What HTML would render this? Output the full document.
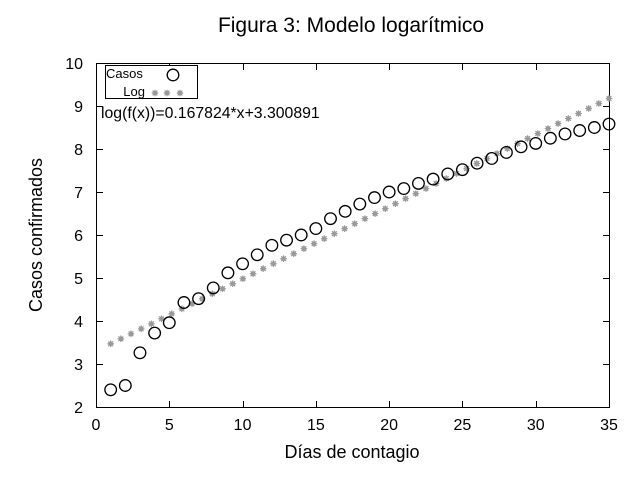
<!DOCTYPE html>
<html><head><meta charset="utf-8"><style>
html,body{margin:0;padding:0;background:#fff;}
svg{display:block;font-family:"Liberation Sans",Arial,sans-serif;}
</style></head><body>
<svg id="s" width="640" height="480" xmlns="http://www.w3.org/2000/svg">
<rect width="640" height="480" fill="#fff"/>
<text x="351" y="32" font-size="21" text-anchor="middle">Figura 3: Modelo logarítmico</text>
<g id="ax" stroke="#000" stroke-width="1" fill="none"></g>
<g id="lbl" font-size="16" fill="#000"></g>
<text x="352" y="458" font-size="18" text-anchor="middle">Días de contagio</text>
<text transform="translate(42,235) rotate(-90)" font-size="18" text-anchor="middle">Casos confirmados</text>
<g id="stars" fill="#999" stroke="#999" stroke-width="1.2"></g>
<g id="circ" stroke="#000" stroke-width="1.3" fill="none"></g>
<rect x="105.5" y="65.5" width="92" height="33" fill="#fff" stroke="#000"/>
<text x="106" y="78" font-size="13">Casos</text>
<text x="145" y="96" font-size="13" text-anchor="end">Log</text>
<circle cx="173" cy="75" r="5.8" stroke="#000" stroke-width="1.3" fill="none"/>
<g id="lstars" fill="#999" stroke="#999" stroke-width="1.2"></g>
<text x="101" y="118" font-size="15.8">log(f(x))=0.167824*x+3.300891</text>
</svg>
<script>
var NS="http://www.w3.org/2000/svg";
function X(v){return 96+v*(513/35);}
function Y(v){return 407-(v-2)*43;}
function el(p,t,a,txt){var e=document.createElementNS(NS,t);for(var k in a)e.setAttribute(k,a[k]);if(txt!=null)e.textContent=txt;document.getElementById(p).appendChild(e);}
function star(p,x,y){el(p,"circle",{cx:x,cy:y,r:2.3,stroke:"none"});
 el(p,"path",{d:"M"+(x-3.3)+" "+y+"H"+(x+3.3)+"M"+x+" "+(y-3.3)+"V"+(y+3.3)+"M"+(x-2.4)+" "+(y-2.4)+"L"+(x+2.4)+" "+(y+2.4)+"M"+(x-2.4)+" "+(y+2.4)+"L"+(x+2.4)+" "+(y-2.4)});}
el("ax","rect",{x:96.5,y:63.5,width:513,height:344});
for(var i=0;i<=35;i+=5){var x=Math.round(X(i))+0.5;
 el("ax","line",{x1:x,y1:407,x2:x,y2:401});el("ax","line",{x1:x,y1:64,x2:x,y2:70});
 el("lbl","text",{x:X(i),y:430,"text-anchor":"middle"},""+i);}
for(var j=2;j<=10;j++){var y=Math.round(Y(j))+0.5;
 el("ax","line",{x1:97,y1:y,x2:103,y2:y});el("ax","line",{x1:609,y1:y,x2:603,y2:y});
 el("lbl","text",{x:83,y:Y(j)+6,"text-anchor":"end"},""+j);}
for(var k=0;k<50;k++){var xv=1+k*34/49;star("stars",X(xv),Y(0.167824*xv+3.300891));}
star("lstars",155,93);star("lstars",167,93);star("lstars",180,93);
var d=[2.40,2.50,3.26,3.72,3.96,4.43,4.52,4.77,5.12,5.33,5.54,5.76,5.88,6.0,6.15,6.38,6.55,6.72,6.87,7.0,7.08,7.2,7.3,7.42,7.52,7.67,7.78,7.92,8.05,8.13,8.25,8.35,8.43,8.5,8.58];
for(var n=0;n<d.length;n++)el("circ","circle",{cx:X(n+1),cy:Y(d[n]),r:5.8});
</script>
</body></html>
